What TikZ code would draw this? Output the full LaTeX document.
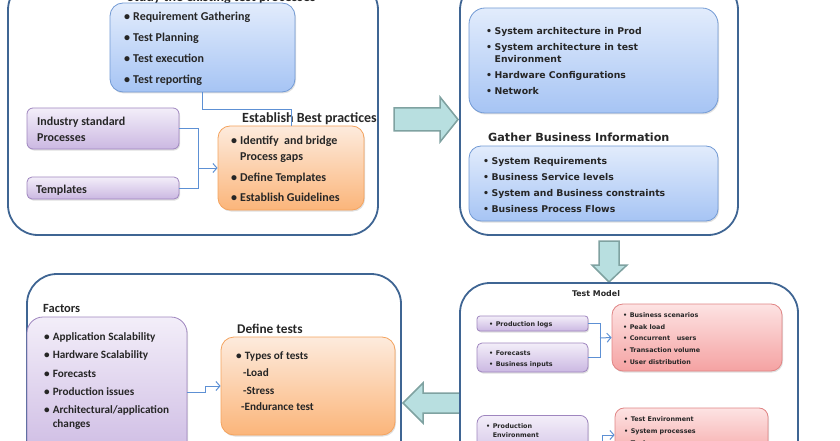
\documentclass[tikz,border=0pt]{standalone}
\usepackage{fontspec}
\setmainfont{Carlito}
\newfontfamily\tahfont{DejaVu Sans}
\usetikzlibrary{arrows.meta,shadows}

\definecolor{frameblue}{HTML}{3F6593}
\definecolor{bluetop}{HTML}{E2ECFC}
\definecolor{bluebot}{HTML}{A6C4F4}
\definecolor{blueline}{HTML}{729AD4}
\definecolor{purpletop}{HTML}{F3EEF9}
\definecolor{purplebot}{HTML}{CBB8E2}
\definecolor{purpleline}{HTML}{9F86BF}
\definecolor{orangetop}{HTML}{FDEBDD}
\definecolor{orangebot}{HTML}{FBB57A}
\definecolor{orangeline}{HTML}{F4A35E}
\definecolor{redtop}{HTML}{FDE3E3}
\definecolor{redbot}{HTML}{F5A2A2}
\definecolor{redline}{HTML}{E08484}
\definecolor{linkblue}{HTML}{5D90D4}
\definecolor{arrowfill}{HTML}{B8DFE0}
\definecolor{arrowline}{HTML}{7FA2A1}

\newcommand{\bitem}{\textbullet\hspace{3pt}}
\newcommand{\bskip}{\phantom{\textbullet}\hspace{3pt}}
\newcommand{\titem}{\textbullet\hspace{2.5pt}}
\newcommand{\tskip}{\phantom{\textbullet}\hspace{2.5pt}}

\begin{document}
\begin{tikzpicture}[x=1pt, y=-1pt,
  stage/.style={draw=frameblue, line width=1.8pt, rounded corners=30pt, inner sep=0pt},
  boxbase/.style={rounded corners=10pt, line width=0.8pt, inner sep=0pt,
    drop shadow={shadow xshift=1pt, shadow yshift=-1.5pt, opacity=0.25}},
  bluebox/.style={boxbase, draw=blueline, top color=bluetop, bottom color=bluebot},
  purplebox/.style={boxbase, draw=purpleline, top color=purpletop, bottom color=purplebot},
  orangebox/.style={boxbase, draw=orangeline, top color=orangetop, bottom color=orangebot},
  redbox/.style={boxbase, draw=redline, top color=redtop, bottom color=redbot},
  txt/.style={anchor=base west, inner sep=0pt, text=black!85},
  link/.style={draw=linkblue, line width=1pt},
  linkarrow/.style={link, -{Straight Barb[length=4pt, width=9pt]}},
  bigarrow/.style={draw=arrowline, fill=arrowfill, line width=1.5pt, line join=miter}
]
\useasboundingbox (0,0) rectangle (840,441);
\clip (0,0) rectangle (840,441);

% block arrows between the stages
\draw[bigarrow] (394,108) -- (440,108) -- (440,97) -- (458,119.5) -- (440,142) -- (440,131) -- (394,131) -- cycle;
\draw[bigarrow] (599,241) -- (619,241) -- (619,265) -- (627,265) -- (609,282) -- (592,265) -- (599,265) -- cycle;
\draw[bigarrow] (460,393) -- (423,393) -- (423,383) -- (403,403) -- (423,423) -- (423,413) -- (460,413) -- cycle;

% study stage
\node[stage, minimum width=370pt, minimum height=255pt] (studystage) at (193,107.5) {};
\node[txt, anchor=base, font=\bfseries\fontsize{14}{16}\selectfont] (studytitle) at (221.5,2) {Study the existing test processes};
\node[bluebox, minimum width=185pt, minimum height=89pt, rounded corners=13pt] (studybox) at (202.5,47.5) {};
\node[txt, font=\bfseries\fontsize{12}{21}\selectfont] (studylist) at (124,21) {\begin{tabular}[t]{@{}l@{}}
  \bitem Requirement Gathering\\ \bitem Test Planning\\ \bitem Test execution\\ \bitem Test reporting\end{tabular}};
\node[purplebox, minimum width=152pt, minimum height=41pt, rounded corners=6pt] (indbox) at (103,128.5) {};
\node[txt, font=\bfseries\fontsize{12}{16}\selectfont] (indlist) at (37,125) {\begin{tabular}[t]{@{}l@{}}
  Industry standard\\ Processes\end{tabular}};
\node[purplebox, minimum width=152pt, minimum height=22pt, rounded corners=5pt] (tplbox) at (103,188) {};
\node[txt, font=\bfseries\fontsize{12}{16}\selectfont] (tpllist) at (36,193) {Templates};
\node[orangebox, minimum width=146pt, minimum height=84pt, rounded corners=12pt] (bestbox) at (291,168) {};
\node[txt, font=\bfseries\fontsize{12}{16}\selectfont] (bestlist) at (231,144) {\begin{tabular}[t]{@{}l@{}}
  \bitem Identify\ \ and bridge\\ \bskip Process gaps\\[5pt] \bitem Define Templates\\[4pt] \bitem Establish Guidelines\end{tabular}};
\node[txt, font=\bfseries\fontsize{14}{16}\selectfont] (besttitle) at (242,122.5) {Establish Best practices};

\draw[link] (studybox.south) -- ++(0,17) -| (bestbox.north);
\coordinate (bestjoin) at (198,168);
\draw[link] (indbox.east) -| (bestjoin);
\draw[link] (tplbox.east) -| (bestjoin);
\draw[linkarrow] (bestjoin) -- (bestbox.west);

% gather stage
\node[stage, minimum width=278pt, minimum height=255pt] (gatherstage) at (599,107.5) {};
\node[bluebox, minimum width=249pt, minimum height=105pt, rounded corners=16pt] (archbox) at (593.5,60.5) {};
\node[txt, font=\tahfont\bfseries\fontsize{9.3}{12}\selectfont] (archlist) at (486,34.5) {\begin{tabular}[t]{@{}l@{}}
  \titem System architecture in Prod\\[4pt] \titem System architecture in test\\ \tskip Environment\\[4pt]
  \titem Hardware Configurations\\[4pt] \titem Network\end{tabular}};
\node[txt, font=\tahfont\bfseries\fontsize{11.2}{13}\selectfont] (gathertitle) at (488,141) {Gather Business Information};
\node[bluebox, minimum width=249pt, minimum height=75pt, rounded corners=12pt] (busbox) at (593.5,183.5) {};
\node[txt, font=\tahfont\bfseries\fontsize{9.3}{16}\selectfont] (buslist) at (483,164.5) {\begin{tabular}[t]{@{}l@{}}
  \titem System Requirements\\ \titem Business Service levels\\ \titem System and Business constraints\\
  \titem Business Process Flows\end{tabular}};

% test model stage
\node[stage, minimum width=338pt, minimum height=217pt] (modelstage) at (629,391.5) {};
\node[txt, anchor=base, font=\tahfont\bfseries\fontsize{7.9}{9}\selectfont] (modeltitle) at (596,296) {Test Model};
\node[purplebox, minimum width=111pt, minimum height=15pt, rounded corners=3pt] (logbox) at (532.5,323.5) {};
\node[txt, font=\tahfont\bfseries\fontsize{6.4}{11}\selectfont] (loglist) at (489,326.3) {\titem Production logs};
\node[purplebox, minimum width=111pt, minimum height=29pt, rounded corners=5pt] (fcbox) at (532.5,357.5) {};
\node[txt, font=\tahfont\bfseries\fontsize{6.4}{11}\selectfont] (fclist) at (489,355.3) {\begin{tabular}[t]{@{}l@{}}
  \titem Forecasts\\ \titem Business inputs\end{tabular}};
\node[redbox, minimum width=170pt, minimum height=67pt, rounded corners=11pt] (loadbox) at (697,337.5) {};
\node[txt, font=\tahfont\bfseries\fontsize{6.4}{11.75}\selectfont] (loadlist) at (623,317.3) {\begin{tabular}[t]{@{}l@{}}
  \titem Business scenarios\\ \titem Peak load\\ \titem Concurrent\ \ \ users\\ \titem Transaction volume\\
  \titem User distribution\end{tabular}};
\node[purplebox, anchor=north, minimum width=111pt, minimum height=50pt, rounded corners=8pt] (envbox) at (532.5,415) {};
\node[txt, font=\tahfont\bfseries\fontsize{6.4}{9}\selectfont] (envlist) at (486,428.5) {\begin{tabular}[t]{@{}l@{}}
  \titem Production\\ \tskip Environment\end{tabular}};
\node[redbox, minimum width=153pt, minimum height=54pt, rounded corners=9pt] (toolbox) at (691.5,435) {};
\node[txt, font=\tahfont\bfseries\fontsize{6.4}{12}\selectfont] (toollist) at (624,421.3) {\begin{tabular}[t]{@{}l@{}}
  \titem Test Environment\\ \titem System processes\\ \titem Tools\end{tabular}};

\coordinate (loadjoin) at (600,338);
\draw[link] (logbox.east) -| (loadjoin);
\draw[link] (fcbox.east) -| (loadjoin);
\draw[linkarrow] (loadjoin) -- (loadbox.west);
\coordinate (envjoin) at (602,470);
\draw[linkarrow] (envjoin) |- (toolbox.west);

% define tests stage
\node[stage, minimum width=374pt, minimum height=226pt] (definestage) at (214,387) {};
\node[txt, font=\bfseries\fontsize{12.5}{14}\selectfont] (factortitle) at (43,312) {Factors};
\node[purplebox, minimum width=160pt, minimum height=150pt, rounded corners=16pt] (factorbox) at (107,392) {};
\node[txt, font=\bfseries\fontsize{11.2}{18.3}\selectfont] (factorlist) at (44,340.5) {\begin{tabular}[t]{@{}l@{}}
  \bitem Application Scalability\\ \bitem Hardware Scalability\\ \bitem Forecasts\\ \bitem Production issues\\
  \bitem Architectural/application\\[-4.3pt] \bskip changes\end{tabular}};
\node[txt, font=\bfseries\fontsize{13.3}{15}\selectfont] (testtitle) at (237,333) {Define tests};
\node[orangebox, minimum width=174pt, minimum height=98pt, rounded corners=13pt] (testbox) at (308,386) {};
\node[txt, font=\bfseries\fontsize{11.2}{17.5}\selectfont] (testlist) at (236,359) {\begin{tabular}[t]{@{}l@{}}
  \bitem Types of tests\\ \hspace{7pt}-Load\\ \hspace{7pt}-Stress\\[-1.5pt] \hspace{5pt}-Endurance test\end{tabular}};

\draw[linkarrow] (factorbox.east) -- ++(18,0) |- (testbox.west);
\end{tikzpicture}
\end{document}
